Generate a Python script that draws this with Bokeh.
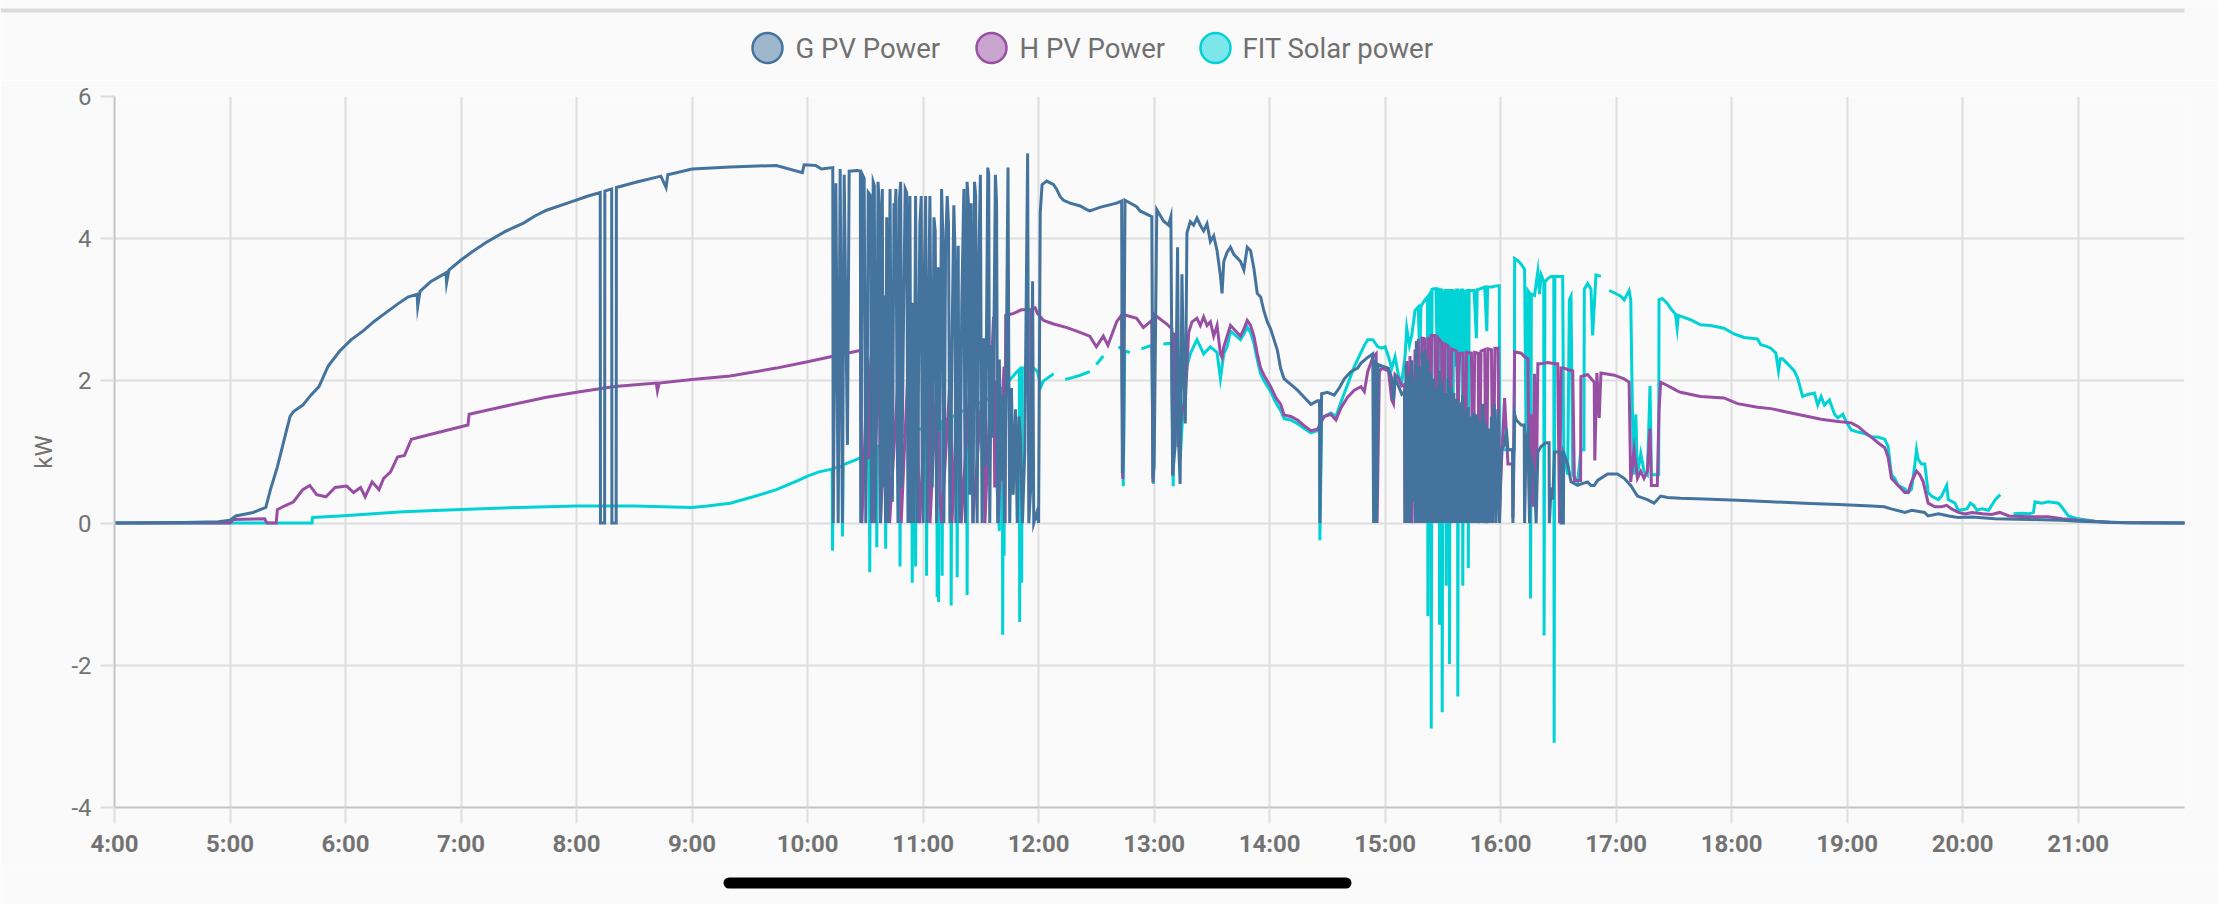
from bokeh.plotting import figure
from bokeh.models import Range1d, FixedTicker
from bokeh.layouts import column
from bokeh.embed import file_html
from bokeh.resources import INLINE
from bokeh.core.properties import value

nan = float("nan")

SERIES_NAMES = ["G PV Power", "H PV Power", "FIT Solar power"]
SERIES_COLORS = ["#44739e", "#984ea3", "#00d2d5"]
HOUR_TICKS = [4, 5, 6, 7, 8, 9, 10, 11, 12, 13, 14, 15, 16, 17, 18, 19, 20, 21]
HOUR_LABELS = ["4:00", "5:00", "6:00", "7:00", "8:00", "9:00", "10:00", "11:00", "12:00",
               "13:00", "14:00", "15:00", "16:00", "17:00", "18:00", "19:00", "20:00", "21:00"]
KW_TICKS = [-4, -2, 0, 2, 4, 6]
KW_LABELS = ["-4", "-2", "0", "2", "4", "6"]

# (hour of day, kW)
G_PV = [
    (4.00, 0.00), (4.60, 0.01), (4.90, 0.02), (5.00, 0.04), (5.05, 0.10), (5.20, 0.15), (5.31, 0.22),
    (5.35, 0.47), (5.41, 0.79), (5.47, 1.18), (5.52, 1.50), (5.55, 1.57), (5.63, 1.66), (5.70, 1.80),
    (5.77, 1.92), (5.85, 2.21), (5.95, 2.42), (6.05, 2.58), (6.15, 2.70), (6.25, 2.84), (6.35, 2.96),
    (6.45, 3.08), (6.54, 3.18), (6.62, 3.22), (6.625, 3.05), (6.645, 3.26), (6.74, 3.40), (6.87, 3.52),
    (6.875, 3.38), (6.895, 3.56), (7.00, 3.70), (7.10, 3.82), (7.22, 3.95), (7.38, 4.10), (7.54, 4.22),
    (7.64, 4.32), (7.74, 4.40), (7.94, 4.51), (8.10, 4.60), (8.205, 4.65), (8.207, 0.00), (8.243, 0.00),
    (8.245, 4.67), (8.304, 4.70), (8.306, 0.00), (8.343, 0.00), (8.345, 4.72), (8.53, 4.80),
    (8.73, 4.88), (8.775, 4.72), (8.79, 4.90), (9.00, 4.98), (9.33, 5.01), (9.73, 5.03), (9.955, 4.93),
    (9.97, 5.04), (10.07, 5.03), (10.12, 4.98), (10.218, 5.00),
    (10.222, 0.00), (10.245, 4.78), (10.265, 0.00), (10.282, 4.98), (10.302, 0.00), (10.317, 4.90),
    (10.345, 1.10), (10.36, 4.95), (10.43, 4.96), (10.457, 4.95), (10.46, 0.00),
    (10.475, 4.90), (10.49, 4.85), (10.504, 0.00), (10.518, 2.30), (10.525, 4.65), (10.547, 4.60),
    (10.552, 0.00), (10.561, 1.50), (10.568, 4.80), (10.578, 4.75), (10.585, 0.00), (10.599, 1.90),
    (10.61, 4.80), (10.62, 4.50), (10.633, 0.00), (10.647, 4.70), (10.655, 0.50), (10.662, 3.20),
    (10.675, 0.00), (10.685, 4.30), (10.696, 0.00), (10.705, 2.80), (10.714, 4.70), (10.725, 1.20),
    (10.734, 0.30), (10.748, 4.50), (10.758, 4.40), (10.765, 4.70), (10.775, 1.50), (10.783, 0.00),
    (10.795, 4.55), (10.806, 4.80), (10.815, 0.50), (10.828, 2.50), (10.845, 4.70), (10.858, 4.65),
    (10.869, 0.00), (10.878, 3.80), (10.886, 4.60), (10.896, 0.00), (10.906, 3.10), (10.92, 0.00),
    (10.935, 4.60), (10.95, 0.00), (10.96, 2.00), (10.972, 4.20), (10.984, 4.60), (10.992, 0.80),
    (11.001, 0.00), (11.01, 3.40), (11.022, 4.60), (11.03, 1.70), (11.036, 0.00), (11.048, 3.00),
    (11.059, 4.60), (11.07, 2.10), (11.079, 0.50), (11.094, 4.30), (11.105, 4.10), (11.117, 0.00),
    (11.13, 3.60), (11.145, 1.30), (11.16, 4.70), (11.17, 4.10), (11.18, 0.00), (11.195, 3.90),
    (11.209, 4.60), (11.22, 4.20), (11.232, 0.00), (11.248, 2.20), (11.266, 4.47), (11.275, 3.90),
    (11.283, 0.00), (11.29, 2.50), (11.304, 3.90), (11.31, 1.00), (11.318, 0.00), (11.335, 3.10),
    (11.353, 4.70), (11.36, 1.50), (11.367, 0.00), (11.381, 4.80), (11.392, 4.50), (11.404, 0.40),
    (11.416, 4.50), (11.425, 2.50), (11.433, 0.00), (11.445, 4.80), (11.455, 4.60), (11.468, 0.00),
    (11.48, 3.50), (11.496, 4.90), (11.503, 2.00), (11.511, 0.00), (11.525, 2.60), (11.54, 0.80),
    (11.56, 5.00), (11.568, 4.90), (11.577, 0.00), (11.59, 2.50), (11.605, 1.20), (11.626, 4.90),
    (11.636, 4.50), (11.646, 0.00), (11.66, 2.30), (11.675, 0.60), (11.69, 1.80), (11.705, 0.00),
    (11.72, 2.20), (11.735, 5.00), (11.742, 2.20), (11.75, 0.00), (11.765, 1.90), (11.78, 0.40),
    (11.80, 1.60), (11.815, 0.00), (11.83, 1.50), (11.842, 1.20), (11.86, 0.00), (11.88, 1.00),
    (11.905, 5.20), (11.915, 0.00), (11.935, 0.60), (11.948, 3.40), (11.958, 0.00), (11.985, 0.15),
    (12.00, 0.00),
    (12.014, 4.36), (12.03, 4.76), (12.07, 4.81), (12.13, 4.76), (12.158, 4.69), (12.187, 4.59),
    (12.216, 4.54), (12.273, 4.50), (12.36, 4.46), (12.417, 4.41), (12.443, 4.39), (12.53, 4.44),
    (12.675, 4.50), (12.719, 4.53), (12.725, 0.70), (12.735, 0.95), (12.748, 4.54), (12.849, 4.45),
    (12.878, 4.39), (12.98, 4.31), (12.99, 0.62), (13.00, 0.80), (13.023, 4.41), (13.081, 4.25),
    (13.125, 4.19), (13.145, 4.31), (13.16, 0.67), (13.183, 1.10), (13.203, 3.88), (13.213, 1.10),
    (13.225, 0.55), (13.241, 3.50), (13.255, 2.07), (13.27, 1.40), (13.284, 4.08), (13.313, 4.24),
    (13.342, 4.19), (13.371, 4.29), (13.40, 4.19), (13.429, 4.11), (13.458, 4.21), (13.487, 3.96),
    (13.516, 4.04), (13.545, 3.83), (13.574, 3.48), (13.588, 3.23), (13.603, 3.68), (13.632, 3.81),
    (13.661, 3.88), (13.69, 3.78), (13.719, 3.73), (13.748, 3.68), (13.777, 3.56), (13.806, 3.88),
    (13.835, 3.83), (13.864, 3.58), (13.893, 3.23), (13.922, 3.18), (13.951, 2.98), (13.98, 2.83),
    (14.009, 2.73), (14.038, 2.58), (14.067, 2.43), (14.096, 2.17), (14.125, 2.03), (14.183, 1.95),
    (14.241, 1.87), (14.299, 1.77), (14.357, 1.67), (14.414, 1.72), (14.432, 1.72), (14.435, 0.00),
    (14.45, 1.82), (14.501, 1.84), (14.559, 1.80), (14.603, 1.90), (14.646, 2.03), (14.704, 2.13),
    (14.762, 2.18), (14.791, 2.25), (14.849, 2.33), (14.893, 2.38), (14.90, 0.00), (14.915, 2.30),
    (14.925, 0.00), (14.94, 2.23), (14.971, 2.21), (15.029, 2.18), (15.057, 2.04), (15.072, 1.73),
    (15.086, 2.04), (15.115, 1.93), (15.144, 1.81), (15.168, 1.85), (15.172, 0.00),
    (15.18, 2.23), (15.19, 0.00), (15.205, 2.10), (15.215, 0.00), (15.23, 2.29), (15.24, 0.30),
    (15.25, 2.00), (15.259, 0.00), (15.27, 2.56), (15.28, 0.00), (15.295, 2.20), (15.305, 0.00),
    (15.32, 2.40), (15.33, 0.00), (15.345, 2.44), (15.355, 0.00), (15.37, 2.30), (15.38, 0.00),
    (15.395, 2.10), (15.405, 0.00), (15.42, 2.03), (15.43, 0.00), (15.445, 1.90), (15.455, 0.00),
    (15.47, 2.14), (15.48, 0.00), (15.495, 2.00), (15.505, 0.00), (15.52, 1.83), (15.53, 0.00),
    (15.545, 2.04), (15.555, 0.00), (15.57, 1.90), (15.58, 0.00), (15.595, 1.83), (15.605, 0.00),
    (15.62, 1.75), (15.63, 0.00), (15.645, 1.70), (15.655, 0.00), (15.67, 1.80), (15.68, 0.00),
    (15.695, 1.60), (15.705, 0.00), (15.72, 1.63), (15.73, 0.00), (15.745, 1.50), (15.755, 0.00),
    (15.77, 1.55), (15.78, 0.00), (15.795, 1.53), (15.805, 0.00), (15.82, 1.45), (15.83, 0.00),
    (15.845, 1.68), (15.855, 0.00), (15.87, 1.40), (15.88, 0.00), (15.895, 1.33), (15.905, 0.00),
    (15.92, 1.50), (15.93, 0.00), (15.945, 1.68), (15.96, 0.00), (15.975, 1.60), (15.99, 0.00),
    (16.006, 1.03), (16.034, 1.10), (16.049, 1.33), (16.063, 1.03), (16.103, 1.03), (16.106, 0.00),
    (16.121, 1.53), (16.135, 1.45), (16.178, 1.38), (16.204, 1.38), (16.207, 0.00), (16.221, 1.20),
    (16.236, 1.28), (16.25, 0.00), (16.264, 0.90), (16.293, 0.68), (16.307, 0.00), (16.322, 1.00),
    (16.351, 1.08), (16.394, 1.13), (16.419, 1.13), (16.422, 0.00), (16.437, 0.50), (16.451, 0.33),
    (16.466, 1.00), (16.48, 1.00), (16.52, 1.00), (16.523, 0.00), (16.543, 0.00), (16.546, 0.98),
    (16.58, 0.83), (16.609, 0.58), (16.667, 0.53), (16.695, 0.55), (16.753, 0.58), (16.782, 0.53),
    (16.81, 0.53), (16.839, 0.60), (16.925, 0.69), (17.011, 0.69), (17.069, 0.63), (17.126, 0.53),
    (17.184, 0.38), (17.27, 0.33), (17.328, 0.28), (17.385, 0.38), (17.443, 0.36), (17.557, 0.35),
    (17.76, 0.34), (18.05, 0.32), (18.34, 0.30), (18.63, 0.28), (18.92, 0.26), (19.21, 0.24),
    (19.32, 0.23), (19.38, 0.20), (19.50, 0.15), (19.56, 0.18), (19.67, 0.15), (19.70, 0.10),
    (19.79, 0.13), (19.88, 0.10), (19.96, 0.08), (20.08, 0.085), (20.28, 0.06), (20.57, 0.05),
    (20.86, 0.04), (21.00, 0.025), (21.43, 0.005), (21.93, 0.00),
]

H_PV = [
    (4.00, 0.00), (5.00, 0.00), (5.03, 0.05), (5.30, 0.06), (5.32, 0.00), (5.40, 0.00), (5.41, 0.19),
    (5.47, 0.24), (5.55, 0.30), (5.63, 0.47), (5.69, 0.53), (5.75, 0.40), (5.83, 0.37), (5.91, 0.50),
    (6.01, 0.52), (6.07, 0.43), (6.13, 0.50), (6.17, 0.37), (6.23, 0.58), (6.29, 0.47), (6.33, 0.63),
    (6.39, 0.72), (6.45, 0.93), (6.51, 0.95), (6.57, 1.18), (6.74, 1.25), (7.06, 1.38), (7.07, 1.53),
    (7.34, 1.63), (7.74, 1.77), (8.00, 1.84), (8.33, 1.92), (8.69, 1.97), (8.70, 1.86), (8.715, 1.97),
    (9.00, 2.02), (9.33, 2.07), (9.73, 2.18), (10.00, 2.27), (10.23, 2.35), (10.46, 2.43),
    (10.47, 0.00), (10.52, 2.30), (10.53, 0.90), (10.55, 2.35), (10.56, 0.00), (10.62, 2.40),
    (10.63, 0.00), (10.70, 2.45), (10.71, 0.00), (10.80, 2.50), (10.81, 0.00), (10.88, 2.55),
    (10.89, 0.00), (10.95, 2.60), (10.96, 0.70), (10.97, 0.00), (11.05, 2.60), (11.06, 0.00),
    (11.137, 2.65), (11.147, 0.30), (11.16, 0.00), (11.24, 2.20), (11.25, 0.00), (11.32, 2.70),
    (11.33, 0.00), (11.42, 2.30), (11.43, 0.00), (11.525, 2.20), (11.535, 0.00), (11.61, 2.90),
    (11.62, 0.50), (11.64, 2.00), (11.65, 0.00), (11.70, 2.20), (11.71, 0.00), (11.715, 2.92),
    (11.784, 2.95), (11.85, 3.00), (11.932, 3.00), (11.935, 1.00), (11.945, 3.02), (11.97, 3.03),
    (11.99, 2.95), (12.043, 2.85), (12.13, 2.80), (12.245, 2.75), (12.33, 2.70), (12.443, 2.63),
    (12.50, 2.48), (12.56, 2.63), (12.60, 2.50), (12.675, 2.83), (12.719, 2.93), (12.728, 0.62),
    (12.74, 2.93), (12.849, 2.88), (12.907, 2.75), (12.98, 2.85), (12.99, 0.57), (13.003, 2.93),
    (13.11, 2.80), (13.154, 2.73), (13.162, 0.67), (13.175, 2.68), (13.21, 1.07), (13.241, 1.57),
    (13.27, 1.72), (13.299, 2.68), (13.328, 2.83), (13.371, 2.88), (13.40, 2.78), (13.429, 2.90),
    (13.458, 2.78), (13.487, 2.83), (13.516, 2.63), (13.545, 2.78), (13.574, 2.38), (13.588, 2.33),
    (13.603, 2.48), (13.632, 2.63), (13.661, 2.78), (13.69, 2.73), (13.719, 2.68), (13.748, 2.63),
    (13.777, 2.73), (13.806, 2.85), (13.835, 2.78), (13.864, 2.63), (13.893, 2.38), (13.922, 2.18),
    (13.951, 2.08), (14.009, 1.92), (14.052, 1.77), (14.096, 1.67), (14.125, 1.52), (14.183, 1.50),
    (14.241, 1.45), (14.299, 1.37), (14.357, 1.30), (14.414, 1.32), (14.472, 1.50), (14.53, 1.53),
    (14.574, 1.45), (14.617, 1.62), (14.675, 1.77), (14.733, 1.87), (14.791, 1.92), (14.82, 1.85),
    (14.849, 2.13), (14.893, 2.33), (14.922, 2.38), (14.93, 0.00), (14.95, 2.13), (14.971, 2.18),
    (15.029, 2.14), (15.057, 1.73), (15.072, 1.68), (15.086, 2.09), (15.115, 2.04), (15.144, 1.93),
    (15.168, 1.95), (15.172, 0.00), (15.187, 2.28), (15.20, 0.50), (15.215, 2.35), (15.23, 0.00),
    (15.259, 2.44), (15.27, 0.80), (15.287, 2.59), (15.30, 0.00), (15.32, 2.60), (15.345, 2.59),
    (15.355, 0.08), (15.375, 2.62), (15.39, 0.50), (15.402, 2.64), (15.431, 2.64), (15.44, 0.40),
    (15.46, 2.60), (15.489, 2.54), (15.50, 0.00), (15.517, 2.52), (15.546, 2.49), (15.56, 0.00),
    (15.575, 2.45), (15.618, 2.42), (15.632, 1.53), (15.645, 2.39), (15.675, 2.39), (15.69, 0.00),
    (15.705, 2.40), (15.747, 2.39), (15.76, 0.00), (15.775, 2.40), (15.805, 2.39), (15.815, 0.18),
    (15.83, 2.42), (15.862, 2.44), (15.875, 0.00), (15.89, 2.45), (15.92, 2.44), (15.935, 0.00),
    (15.95, 2.46), (15.977, 2.46), (15.99, 0.13),
    (16.006, 0.83), (16.034, 1.76), (16.063, 0.83), (16.103, 0.83), (16.106, 0.08), (16.121, 2.41),
    (16.178, 2.39), (16.207, 2.34), (16.236, 2.31), (16.25, 0.18), (16.264, 1.53), (16.279, 0.23),
    (16.293, 2.10), (16.307, 0.20), (16.322, 2.24), (16.351, 2.24), (16.408, 2.26), (16.466, 2.24),
    (16.494, 2.24), (16.51, 0.00), (16.523, 2.18), (16.546, 2.18), (16.58, 2.16), (16.624, 2.14),
    (16.638, 0.60), (16.667, 0.60), (16.692, 0.60), (16.695, 2.06), (16.753, 2.09), (16.81, 1.98),
    (16.815, 0.88), (16.833, 2.11), (16.853, 1.48), (16.868, 2.11), (16.983, 2.08), (17.069, 2.03),
    (17.112, 1.98), (17.126, 0.58), (17.155, 1.03), (17.184, 0.63), (17.213, 0.73), (17.241, 0.63),
    (17.27, 0.73), (17.293, 1.33), (17.305, 0.53), (17.356, 0.53), (17.371, 1.58), (17.385, 1.98),
    (17.414, 1.96), (17.471, 1.91), (17.529, 1.86), (17.557, 1.84), (17.73, 1.78), (17.933, 1.76),
    (18.05, 1.68), (18.223, 1.63), (18.34, 1.61), (18.484, 1.56), (18.629, 1.51), (18.774, 1.46),
    (18.919, 1.43), (19.035, 1.41), (19.093, 1.36), (19.151, 1.28), (19.209, 1.21), (19.267, 1.13),
    (19.325, 1.06), (19.354, 0.93), (19.383, 0.63), (19.441, 0.53), (19.499, 0.43), (19.528, 0.43),
    (19.557, 0.58), (19.60, 0.73), (19.629, 0.68), (19.658, 0.58), (19.701, 0.28), (19.759, 0.23),
    (19.817, 0.23), (19.861, 0.25), (19.904, 0.20), (19.962, 0.15), (20.02, 0.13), (20.08, 0.15),
    (20.17, 0.13), (20.25, 0.12), (20.32, 0.15), (20.40, 0.10), (20.57, 0.09), (20.74, 0.09),
    (20.86, 0.06), (21.00, 0.04), (21.29, 0.01), (21.93, 0.00),
]

FIT_SOLAR = [
    (4.00, 0.00), (5.71, 0.00), (5.715, 0.08), (5.95, 0.10), (6.50, 0.16), (7.00, 0.19), (7.50, 0.22),
    (8.00, 0.24), (8.50, 0.24), (9.00, 0.22), (9.13, 0.24), (9.33, 0.28), (9.53, 0.37), (9.73, 0.47),
    (9.92, 0.60), (10.00, 0.66), (10.10, 0.72), (10.213, 0.76), (10.216, -0.39), (10.222, 0.77),
    (10.30, 0.80), (10.302, -0.19), (10.308, 0.82), (10.40, 0.88), (10.46, 0.92), (10.50, 1.00),
    (10.535, 1.02), (10.538, -0.69), (10.544, 1.05), (10.596, 1.05), (10.599, -0.34), (10.605, 1.08),
    (10.673, 1.10), (10.676, -0.36), (10.682, 1.12), (10.797, 1.20), (10.80, -0.61), (10.806, 1.22),
    (10.903, 1.25), (10.906, -0.84), (10.912, 1.28), (10.932, 1.28), (10.935, -0.61), (10.941, 1.30),
    (11.027, 1.35), (11.03, -0.74), (11.036, 1.36), (11.119, 1.40), (11.122, -1.04), (11.128, 1.30),
    (11.134, -1.11), (11.14, 1.40), (11.162, 1.42), (11.165, -0.74), (11.171, 1.44), (11.24, 1.48),
    (11.243, -1.16), (11.249, 1.50), (11.292, 1.52), (11.295, -0.76), (11.301, 1.55), (11.378, 1.60),
    (11.381, -1.01), (11.387, 1.62), (11.50, 1.70), (11.60, 1.78), (11.66, -0.11), (11.667, 1.87),
    (11.686, 1.90), (11.689, -1.57), (11.695, 1.92), (11.701, -0.46), (11.707, 1.95), (11.727, 1.97),
    (11.813, 2.13), (11.833, 2.16), (11.836, -1.39), (11.842, 2.18), (11.853, -0.84), (11.859, 2.18),
    (11.957, 2.18), (11.991, 2.13), (12.02, 1.92), (12.043, 2.00), (12.13, 2.10), (12.17, nan),
    (12.23, 2.02), (12.30, 2.05), (12.36, 2.08), (12.443, 2.13), (12.47, nan), (12.50, 2.23),
    (12.56, 2.35), (12.60, nan), (12.69, 2.46), (12.72, 2.48), (12.733, 0.52), (12.745, 2.42),
    (12.79, 2.40), (12.81, nan), (12.89, 2.45), (12.98, 2.50), (12.994, 0.55), (13.005, 2.48),
    (13.03, nan), (13.08, 2.52), (13.15, 2.53), (13.165, 0.52), (13.18, 2.30), (13.20, 2.10),
    (13.226, 0.90), (13.25, 1.60), (13.284, 2.20), (13.313, 2.38), (13.371, 2.58), (13.429, 2.38),
    (13.487, 2.48), (13.545, 2.40), (13.574, 2.03), (13.603, 2.38), (13.632, 2.48), (13.661, 2.70),
    (13.69, 2.66), (13.719, 2.62), (13.748, 2.58), (13.777, 2.66), (13.806, 2.76), (13.835, 2.68),
    (13.864, 2.53), (13.893, 2.30), (13.922, 2.10), (13.951, 2.00), (14.009, 1.85), (14.052, 1.70),
    (14.096, 1.58), (14.125, 1.47), (14.183, 1.45), (14.241, 1.40), (14.299, 1.33), (14.357, 1.27),
    (14.414, 1.30), (14.432, 1.30), (14.435, -0.24), (14.45, 1.45), (14.472, 1.50), (14.53, 1.55),
    (14.574, 1.50), (14.617, 1.70), (14.675, 1.95), (14.733, 2.20), (14.791, 2.40), (14.82, 2.50),
    (14.849, 2.58), (14.893, 2.58), (14.936, 2.48), (14.971, 2.46), (15.00, 2.48), (15.029, 2.34),
    (15.057, 2.18), (15.086, 2.34), (15.115, 2.08), (15.144, 1.98), (15.172, 2.34),
    (15.187, 2.74), (15.21, 2.50), (15.23, 2.64), (15.259, 2.99), (15.287, 3.04), (15.30, 2.30),
    (15.31, 3.05), (15.345, 3.14), (15.367, 3.18), (15.370, -1.31), (15.377, 3.20), (15.396, 3.25),
    (15.399, -2.89), (15.406, 3.29), (15.44, 3.30), (15.45, 2.40), (15.46, 3.29), (15.468, 3.29),
    (15.471, -1.43), (15.478, 3.28), (15.491, 3.28), (15.494, -2.66), (15.501, 3.27), (15.515, 2.50),
    (15.522, 3.27), (15.526, 3.27), (15.529, -0.88), (15.535, 3.27), (15.554, 3.27), (15.557, -1.98),
    (15.564, 3.27), (15.583, 3.27), (15.586, 0.20), (15.592, 3.28), (15.61, 2.20), (15.617, 3.28),
    (15.626, 3.28), (15.629, -2.44), (15.636, 3.29), (15.655, 2.30), (15.662, 3.28), (15.669, 3.28),
    (15.672, -0.88), (15.679, 3.28), (15.70, 2.40), (15.707, 3.27), (15.717, 3.27), (15.72, -0.63),
    (15.727, 3.27), (15.77, 3.27), (15.79, 2.60), (15.797, 3.28), (15.862, 3.32), (15.88, 2.70),
    (15.887, 3.32), (15.92, 3.32), (15.977, 3.34), (15.988, 3.34), (15.991, 1.03), (16.118, 1.03),
    (16.121, 3.72), (16.149, 3.69), (16.178, 3.64), (16.207, 3.57), (16.221, 1.03), (16.236, 3.27),
    (16.256, 3.22), (16.259, -1.06), (16.266, 3.22), (16.293, 3.20), (16.322, 3.54), (16.336, 3.22),
    (16.351, 3.49), (16.373, 3.40), (16.376, -1.58), (16.383, 3.39), (16.408, 3.44), (16.437, 3.47),
    (16.46, 3.47), (16.463, -3.09), (16.469, 3.47), (16.494, 3.47), (16.537, 3.47), (16.546, 1.03),
    (16.58, 0.68), (16.595, 3.14), (16.609, 3.19), (16.624, 0.68), (16.667, 0.58), (16.695, 1.03),
    (16.721, 1.03), (16.724, 3.29), (16.753, 3.37), (16.782, 3.29), (16.796, 2.64), (16.81, 3.04),
    (16.825, 3.49), (16.868, 3.47), (16.875, nan), (16.94, 3.27), (16.983, 3.24), (17.04, 3.19),
    (17.069, 3.14), (17.112, 3.27), (17.126, 3.14), (17.141, 1.53), (17.155, 0.68), (17.17, 1.53),
    (17.184, 0.68), (17.213, 0.98), (17.241, 0.73), (17.27, 0.68), (17.293, 1.93), (17.305, 0.68),
    (17.342, 0.68), (17.368, 0.68), (17.371, 3.14), (17.399, 3.16), (17.443, 3.09), (17.471, 3.02),
    (17.513, 2.94), (17.528, 2.74), (17.538, 2.92), (17.557, 2.91), (17.643, 2.86), (17.73, 2.79),
    (17.817, 2.78), (17.933, 2.74), (18.02, 2.66), (18.107, 2.61), (18.223, 2.59), (18.252, 2.51),
    (18.296, 2.49), (18.339, 2.46), (18.383, 2.39), (18.405, 2.14), (18.42, 2.31), (18.441, 2.31),
    (18.484, 2.24), (18.542, 2.14), (18.571, 2.04), (18.614, 1.78), (18.658, 1.81), (18.716, 1.83),
    (18.745, 1.66), (18.774, 1.78), (18.803, 1.66), (18.846, 1.73), (18.89, 1.53), (18.919, 1.48),
    (18.962, 1.53), (18.991, 1.43), (19.035, 1.31), (19.093, 1.28), (19.151, 1.26), (19.209, 1.21),
    (19.267, 1.21), (19.325, 1.18), (19.354, 1.08), (19.383, 0.68), (19.412, 0.63), (19.441, 0.53),
    (19.499, 0.48), (19.528, 0.43), (19.557, 0.48), (19.586, 0.83), (19.60, 1.03), (19.614, 0.90),
    (19.643, 0.83), (19.672, 0.83), (19.701, 0.43), (19.73, 0.38), (19.788, 0.33), (19.817, 0.38),
    (19.861, 0.53), (19.875, 0.33), (19.933, 0.28), (19.962, 0.18), (20.037, 0.20), (20.066, 0.28),
    (20.095, 0.25), (20.124, 0.18), (20.167, 0.20), (20.224, 0.18), (20.282, 0.33), (20.325, 0.40),
    (20.33, nan), (20.44, 0.13), (20.511, 0.14), (20.569, 0.13), (20.612, 0.15), (20.626, 0.30),
    (20.684, 0.28), (20.741, 0.30), (20.828, 0.28), (20.856, 0.23), (20.914, 0.10), (21.00, 0.06),
    (21.144, 0.025), (21.287, 0.01), (21.934, 0.00),
]

SERIES_DATA = [G_PV, H_PV, FIT_SOLAR]

W = 2218
BG = "#fafafa"
FONT = "Roboto"
TEXT = "#737373"
GRID = "#dedede"
AXIS = "#c4c4c4"

FRAME_LEFT = 114
FRAME_RIGHT = 2184

# ---------- header with legend ----------
HEAD_H = 80
head = figure(width=W, height=HEAD_H, y_range=Range1d(0, HEAD_H),
              x_axis_type=None, y_axis_type=None, toolbar_location=None,
              output_backend="svg", min_border=0)
foot_h = 37
foot = figure(width=W, height=foot_h, y_range=Range1d(0, foot_h),
              x_axis_type=None, y_axis_type=None, toolbar_location=None,
              output_backend="svg", min_border=0)
for fig in (head, foot):
    try:
        fig.frame_align = False
        fig.x_range = Range1d(0, W)
    except Exception:
        fig.min_border_left = FRAME_LEFT
        fig.min_border_right = W - FRAME_RIGHT
        fig.x_range = Range1d(FRAME_LEFT, FRAME_RIGHT)
    fig.outline_line_color = None
    fig.background_fill_color = BG
    fig.border_fill_color = BG
    fig.grid.visible = False

head.quad(left=[0], right=[FRAME_RIGHT], bottom=[HEAD_H - 12], top=[HEAD_H - 8],
          fill_color="#dcdcdc", line_color=None)
legend_circle_x = [767, 991, 1215]
legend_text_x = [795, 1019, 1242]
legend_y = [HEAD_H - 47.5] * 3
head.scatter(x=legend_circle_x, y=legend_y, size=30, marker="circle",
             fill_color=SERIES_COLORS, fill_alpha=0.5, line_color=SERIES_COLORS, line_width=2.5)
head.text(x=legend_text_x, y=legend_y, text=SERIES_NAMES, text_font=value(FONT),
          text_font_size="27.5px", text_color="#707070", text_baseline="middle", text_align="left")

foot.segment(x0=[728.5], y0=[foot_h - 15.5], x1=[1345.5], y1=[foot_h - 15.5], line_width=11,
             line_cap="round", line_color="black")

# ---------- main chart ----------
TOP = 16
BOTTOM = 60
p = figure(width=W, height=TOP + 711 + BOTTOM, x_range=Range1d(4.0, 21.92), y_range=Range1d(-4, 6),
           toolbar_location=None, output_backend="svg",
           min_border_left=FRAME_LEFT, min_border_right=W - FRAME_RIGHT,
           min_border_top=TOP, min_border_bottom=BOTTOM)
p.outline_line_color = None
p.background_fill_color = BG
p.border_fill_color = BG

for pts, color in reversed(list(zip(SERIES_DATA, SERIES_COLORS))):
    pts = sorted(pts, key=lambda t: t[0])
    xs = [t for t, v in pts]
    ys = [v for t, v in pts]
    p.line(xs, ys, line_width=3, line_color=color, line_join="miter")

p.xaxis.ticker = FixedTicker(ticks=HOUR_TICKS)
p.xaxis.major_label_overrides = {t: lab for t, lab in zip(HOUR_TICKS, HOUR_LABELS)}
p.xaxis.major_label_text_font = FONT
p.xaxis.major_label_text_font_size = "24px"
p.xaxis.major_label_text_font_style = "bold"
p.xaxis.major_label_text_color = TEXT
p.xaxis.major_label_standoff = 6
p.xaxis.major_tick_out = 16
p.xaxis.major_tick_in = 0
p.xaxis.major_tick_line_color = GRID
p.xaxis.major_tick_line_width = 2
p.xaxis.minor_tick_line_color = None
p.xaxis.axis_line_color = AXIS
p.xaxis.axis_line_width = 2

p.yaxis.ticker = FixedTicker(ticks=KW_TICKS)
p.yaxis.major_label_overrides = {t: lab for t, lab in zip(KW_TICKS, KW_LABELS)}
p.yaxis.major_label_text_font = FONT
p.yaxis.major_label_text_font_size = "24px"
p.yaxis.major_label_text_color = TEXT
p.yaxis.major_label_standoff = 9
p.yaxis.major_tick_out = 14
p.yaxis.major_tick_in = 0
p.yaxis.major_tick_line_color = GRID
p.yaxis.major_tick_line_width = 2
p.yaxis.minor_tick_line_color = None
p.yaxis.axis_line_color = AXIS
p.yaxis.axis_line_width = 2
p.yaxis.axis_label = "kW"
p.yaxis.axis_label_text_font = FONT
p.yaxis.axis_label_text_font_size = "24px"
p.yaxis.axis_label_text_font_style = "normal"
p.yaxis.axis_label_text_color = TEXT
p.yaxis.axis_label_standoff = 10

p.xgrid.ticker = FixedTicker(ticks=HOUR_TICKS)
p.ygrid.ticker = FixedTicker(ticks=KW_TICKS)
p.grid.grid_line_color = GRID
p.grid.grid_line_width = 2

layout = column(head, p, foot)
open("out.html", "w").write(file_html(layout, INLINE))
